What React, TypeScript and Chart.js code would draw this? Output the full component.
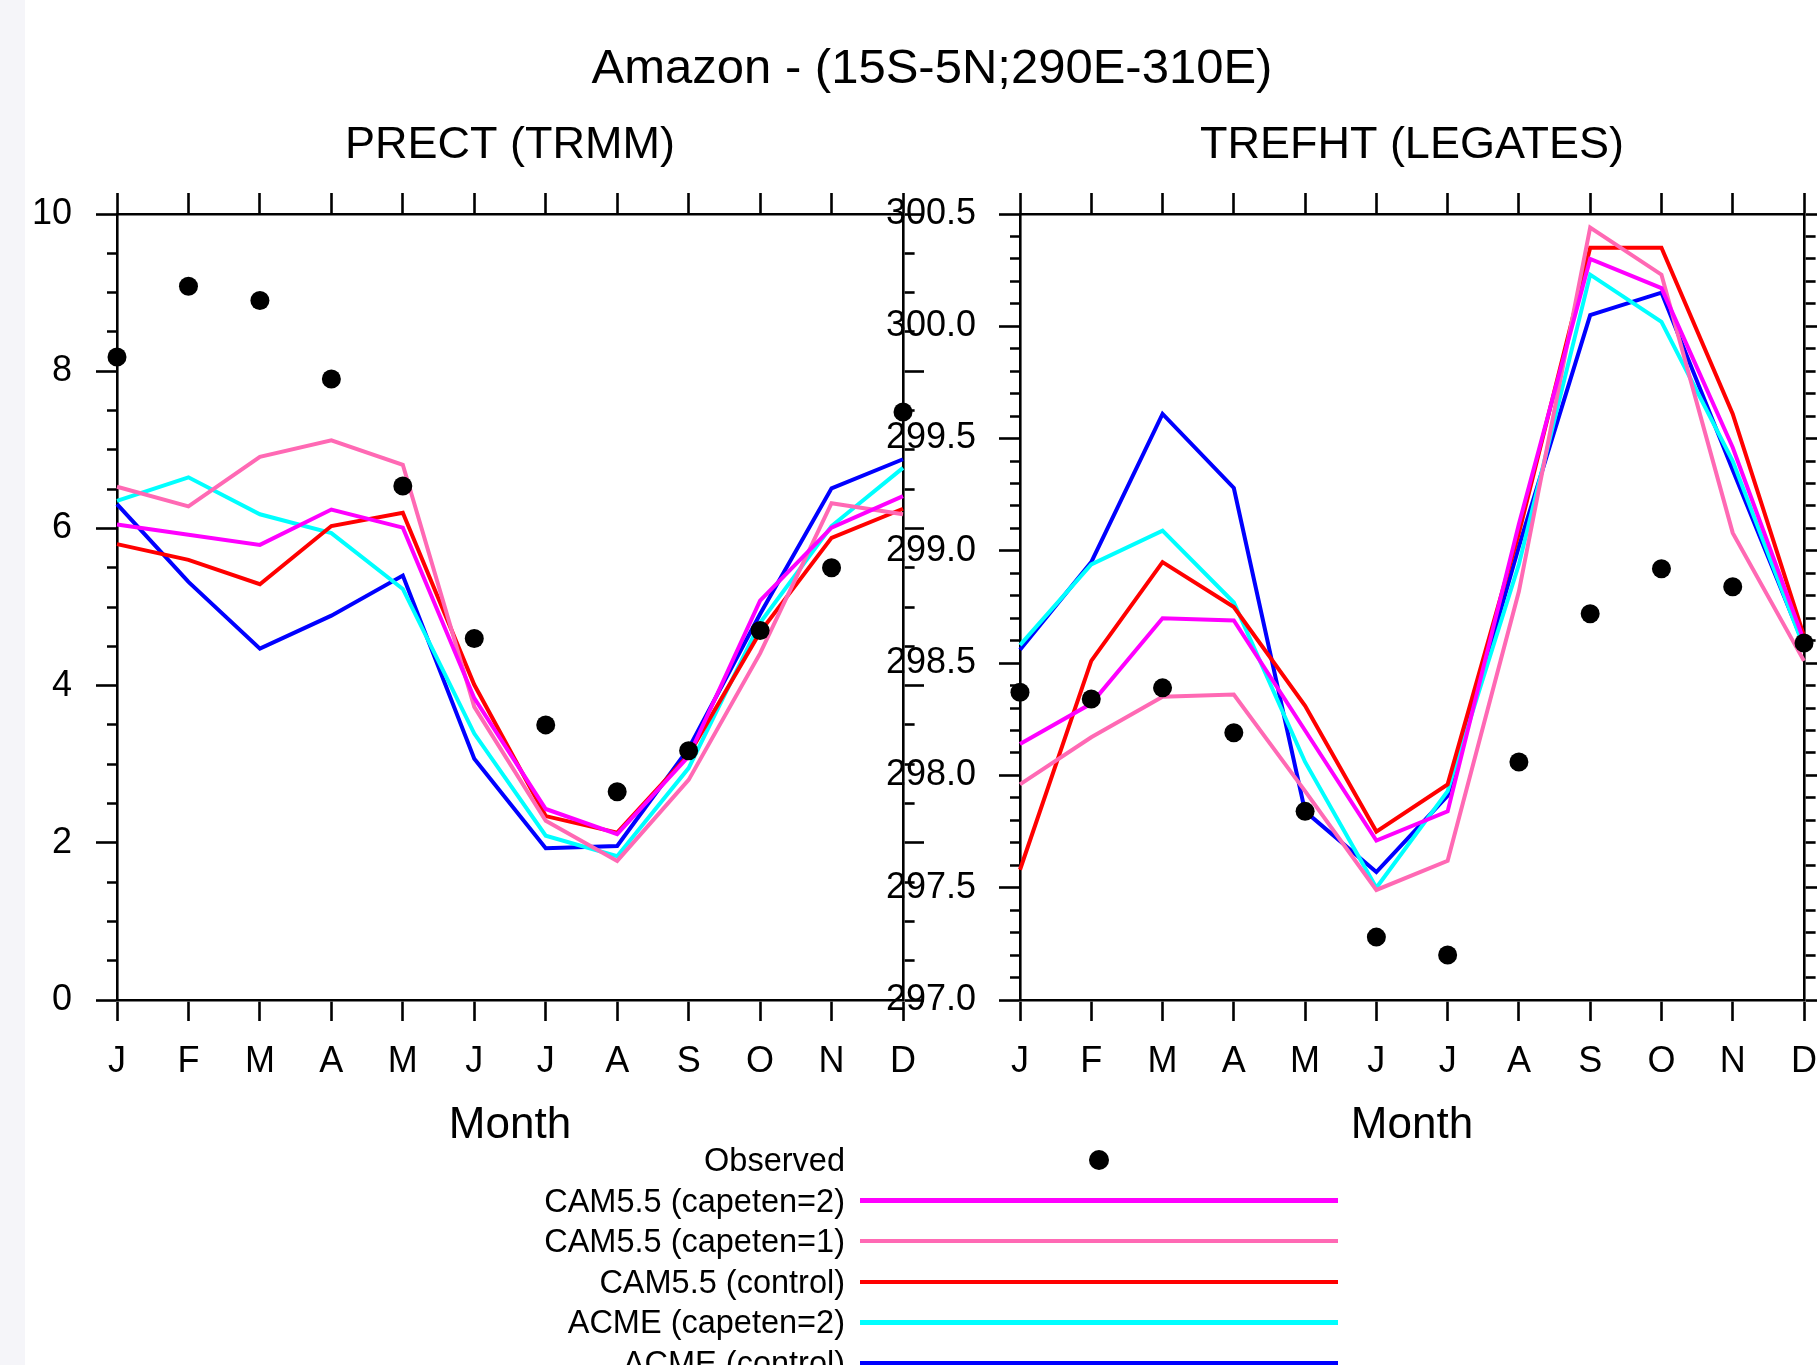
import React, { useEffect, useRef } from "react";
import { Chart, registerables } from "chart.js";

Chart.register(...registerables);

const FONT = "'Liberation Sans', Arial, Helvetica, sans-serif";
const W = 1817;
const H = 1365;

const mainTitle = "Amazon - (15S-5N;290E-310E)";
const leftTitle = "PRECT (TRMM)";
const rightTitle = "TREFHT (LEGATES)";
const xTitle = "Month";

const months = ["J", "F", "M", "A", "M", "J", "J", "A", "S", "O", "N", "D"];

const observedLabel = "Observed";
const seriesLabels = [
  "CAM5.5 (capeten=2)",
  "CAM5.5 (capeten=1)",
  "CAM5.5 (control)",
  "ACME (capeten=2)",
  "ACME (control)",
];
const seriesColors = ["#ff00ff", "#ff69b4", "#ff0000", "#00ffff", "#0000ff"];

// PRECT (TRMM)
const prectObserved = [8.18, 9.08, 8.9, 7.9, 6.54, 4.6, 3.5, 2.65, 3.17, 4.7, 5.5, 7.48];
const prectCamCapeten2 = [6.05, 5.92, 5.79, 6.24, 6.01, 3.84, 2.43, 2.11, 3.1, 5.08, 6.01, 6.41];
const prectCamCapeten1 = [6.53, 6.28, 6.91, 7.12, 6.81, 3.73, 2.28, 1.77, 2.8, 4.41, 6.32, 6.18];
const prectCamControl = [5.8, 5.6, 5.29, 6.03, 6.2, 4.01, 2.34, 2.13, 3.12, 4.68, 5.88, 6.25];
const prectAcmeCapeten2 = [6.35, 6.65, 6.18, 5.94, 5.23, 3.39, 2.09, 1.83, 2.95, 4.8, 6.03, 6.77];
const prectAcmeControl = [6.31, 5.32, 4.47, 4.89, 5.4, 3.07, 1.93, 1.96, 3.2, 4.91, 6.51, 6.88];

// TREFHT (LEGATES)
const trefhtObserved = [298.37, 298.34, 298.39, 298.19, 297.84, 297.28, 297.2, 298.06, 298.72, 298.92, 298.84, 298.59];
const trefhtCamCapeten2 = [298.14, 298.32, 298.7, 298.69, 298.2, 297.71, 297.84, 299.12, 300.3, 300.17, 299.46, 298.6];
const trefhtCamCapeten1 = [297.96, 298.17, 298.35, 298.36, 297.93, 297.49, 297.62, 298.82, 300.44, 300.23, 299.08, 298.51];
const trefhtCamControl = [297.58, 298.51, 298.95, 298.75, 298.31, 297.75, 297.96, 299.08, 300.35, 300.35, 299.61, 298.62];
const trefhtAcmeCapeten2 = [298.58, 298.94, 299.09, 298.77, 298.06, 297.5, 297.93, 298.94, 300.23, 300.02, 299.4, 298.57];
const trefhtAcmeControl = [298.56, 298.95, 299.61, 299.28, 297.84, 297.57, 297.91, 299.02, 300.05, 300.15, 299.36, 298.58];

// axis ranges / tick steps
const prectRange = [0, 10];
const prectMajorStep = 2;
const prectMinorStep = 0.5;
const trefhtRange = [297, 300.5];
const trefhtMajorStep = 0.5;
const trefhtMinorStep = 0.1;

type PanelSpec = {
  title: string;
  observed: number[];
  series: number[][];
  range: number[];
  majorStep: number;
  minorStep: number;
  decimals: number;
  padLeft: number;
  yWidth: number;
  rightWidth: number;
  padRight: number;
  yLabelPad: number;
};

const AXIS_W = 2.6;
const MAJOR_LEN = 21;
const MINOR_LEN = 10;
const TICK_FONT_SIZE = 36;

function buildConfig(p: PanelSpec): any {
  const isMajor = (v: number) =>
    Math.abs(v / p.majorStep - Math.round(v / p.majorStep)) < 1e-6;
  const border = { display: true, color: "#000", width: AXIS_W };
  const gridBase = {
    drawOnChartArea: false,
    drawTicks: true,
    tickLength: MAJOR_LEN,
    tickWidth: AXIS_W,
    tickColor: "#000",
    color: "#000",
    offset: false,
  };

  const lineSets = p.series.map((data, i) => ({
    label: seriesLabels[i],
    data,
    borderColor: seriesColors[i],
    backgroundColor: seriesColors[i],
    borderWidth: 4,
    pointRadius: 0,
    tension: 0,
    fill: false,
  }));

  return {
    type: "line",
    data: {
      labels: months,
      datasets: [
        {
          label: observedLabel,
          data: p.observed,
          showLine: false,
          pointRadius: 9.5,
          pointBackgroundColor: "#000",
          pointBorderWidth: 0,
          borderColor: "#000",
          backgroundColor: "#000",
          clip: false,
        },
        ...lineSets,
      ],
    },
    options: {
      responsive: false,
      animation: false,
      events: [],
      devicePixelRatio: 1,
      layout: {
        padding: { left: p.padLeft, right: p.padRight, top: 115, bottom: 213 },
      },
      plugins: {
        legend: { display: false },
        tooltip: { enabled: false },
        title: {
          display: true,
          text: p.title,
          fullSize: false,
          color: "#000",
          font: { family: FONT, size: 45, weight: "normal", lineHeight: 1.2 },
          padding: { top: 4, bottom: 20 },
        },
      },
      scales: {
        x: {
          type: "category",
          position: "bottom",
          offset: false,
          grid: { ...gridBase },
          border,
          ticks: {
            color: "#000",
            font: { family: FONT, size: TICK_FONT_SIZE, lineHeight: 82 / TICK_FONT_SIZE },
            padding: 0,
            autoSkip: false,
            maxRotation: 0,
            minRotation: 0,
          },
          title: {
            display: true,
            text: xTitle,
            color: "#000",
            font: { family: FONT, size: 44, lineHeight: 1.2 },
            padding: 0,
          },
          afterFit: (s: any) => {
            s.height = 152;
          },
        },
        xTop: {
          type: "category",
          position: "top",
          labels: months,
          offset: false,
          grid: { ...gridBase },
          border,
          ticks: { display: false, padding: 0 },
          afterFit: (s: any) => {
            s.height = MAJOR_LEN;
          },
        },
        y: {
          type: "linear",
          position: "left",
          min: p.range[0],
          max: p.range[1],
          grid: {
            ...gridBase,
            tickBorderDash: (ctx: any) =>
              ctx.tick && isMajor(ctx.tick.value) ? [] : [0, MAJOR_LEN - MINOR_LEN, MINOR_LEN + 4, 1000],
          },
          border,
          ticks: {
            color: "#000",
            font: { family: FONT, size: TICK_FONT_SIZE, lineHeight: 1.2 },
            stepSize: p.minorStep,
            autoSkip: false,
            padding: p.yLabelPad,
            callback: (v: any) => (isMajor(Number(v)) ? Number(v).toFixed(p.decimals) : ""),
          },
          afterFit: (s: any) => {
            s.width = p.yWidth;
          },
        },
        yRight: {
          type: "linear",
          position: "right",
          min: p.range[0],
          max: p.range[1],
          grid: {
            ...gridBase,
            tickBorderDash: (ctx: any) =>
              ctx.tick && isMajor(ctx.tick.value) ? [] : [MINOR_LEN, 1000],
          },
          border,
          ticks: { display: false, stepSize: p.minorStep, autoSkip: false, padding: 0 },
          afterFit: (s: any) => {
            s.width = p.rightWidth;
          },
        },
      },
    },
  };
}

const legendRowsY = [1160, 1200.6, 1241.2, 1281.8, 1322.4, 1363];

export default function App() {
  const leftRef = useRef<HTMLCanvasElement>(null);
  const rightRef = useRef<HTMLCanvasElement>(null);

  useEffect(() => {
    Chart.defaults.font.family = FONT;
    Chart.defaults.color = "#000";
    const left = new Chart(
      leftRef.current as HTMLCanvasElement,
      buildConfig({
        title: leftTitle,
        observed: prectObserved,
        series: [prectCamCapeten2, prectCamCapeten1, prectCamControl, prectAcmeCapeten2, prectAcmeControl],
        range: prectRange,
        majorStep: prectMajorStep,
        minorStep: prectMinorStep,
        decimals: 0,
        padLeft: 0,
        yWidth: 117,
        rightWidth: 21,
        padRight: W - 903 - 21,
        yLabelPad: 24,
      })
    );
    const right = new Chart(
      rightRef.current as HTMLCanvasElement,
      buildConfig({
        title: rightTitle,
        observed: trefhtObserved,
        series: [trefhtCamCapeten2, trefhtCamCapeten1, trefhtCamControl, trefhtAcmeCapeten2, trefhtAcmeControl],
        range: trefhtRange,
        majorStep: trefhtMajorStep,
        minorStep: trefhtMinorStep,
        decimals: 1,
        padLeft: 700,
        yWidth: 320,
        rightWidth: 12,
        padRight: 0,
        yLabelPad: 23,
      })
    );
    return () => {
      left.destroy();
      right.destroy();
    };
  }, []);

  const legendLabels = [observedLabel, ...seriesLabels];

  return (
    <div
      style={{
        position: "fixed",
        left: 0,
        top: 0,
        width: W,
        height: H,
        background: "#ffffff",
        overflow: "hidden",
        fontFamily: FONT,
        color: "#000",
      }}
    >
      <div style={{ position: "absolute", left: 0, top: 0, width: 25, height: H, background: "#f5f5f9" }} />
      <div
        style={{
          position: "absolute",
          left: 932,
          top: 36,
          transform: "translateX(-50%)",
          whiteSpace: "nowrap",
          fontSize: 49,
          lineHeight: "60px",
        }}
      >
        {mainTitle}
      </div>
      <canvas ref={leftRef} width={W} height={H} style={{ position: "absolute", left: 0, top: 0, width: W, height: H }} />
      <canvas ref={rightRef} width={W} height={H} style={{ position: "absolute", left: 0, top: 0, width: W, height: H }} />
      {legendLabels.map((lab, i) => (
        <React.Fragment key={lab}>
          <div
            style={{
              position: "absolute",
              left: 0,
              width: 845,
              top: legendRowsY[i] - 20,
              height: 40,
              lineHeight: "40px",
              fontSize: 32.5,
              textAlign: "right",
              whiteSpace: "nowrap",
            }}
          >
            {lab}
          </div>
          {i === 0 ? (
            <div
              style={{
                position: "absolute",
                left: 1089,
                top: legendRowsY[i] - 10,
                width: 20,
                height: 20,
                borderRadius: "50%",
                background: "#000",
              }}
            />
          ) : (
            <div
              style={{
                position: "absolute",
                left: 860,
                top: legendRowsY[i] - 2.25,
                width: 478,
                height: 4.5,
                background: seriesColors[i - 1],
              }}
            />
          )}
        </React.Fragment>
      ))}
    </div>
  );
}
